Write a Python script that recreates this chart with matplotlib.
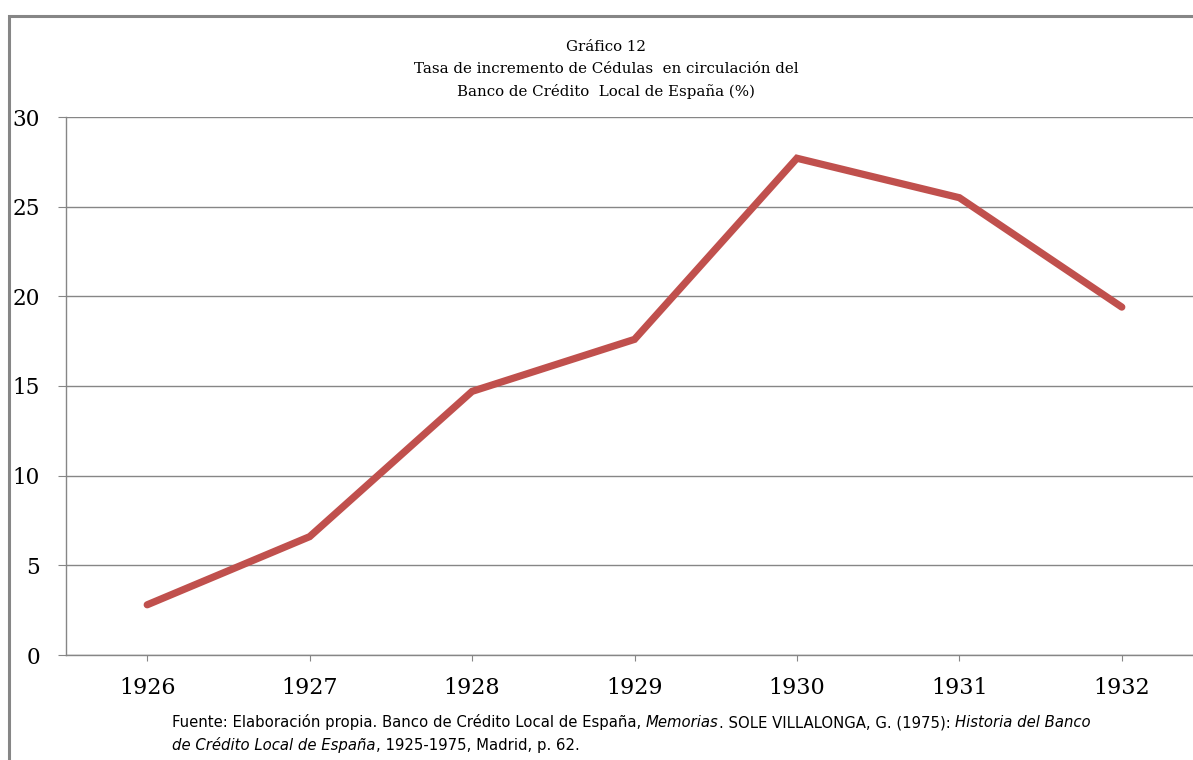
import matplotlib.pyplot as plt
from matplotlib.patches import Rectangle

years = ["1926", "1927", "1928", "1929", "1930", "1931", "1932"]
tasa = [2.8, 6.6, 14.7, 17.6, 27.7, 25.5, 19.4]
yticks = [0, 5, 10, 15, 20, 25, 30]

titulo = "Gráfico 12\nTasa de incremento de Cédulas  en circulación del\nBanco de Crédito  Local de España (%)"
grey = "#868686"

fig = plt.figure(figsize=(11.93, 7.6), dpi=100)
ax = fig.add_axes([66 / 1193, 1 - 655 / 760, (1203 - 66) / 1193, (655 - 117) / 760])

x = list(range(len(years)))
ax.plot(x, tasa, color="#C0504D", lw=5.2, solid_capstyle="round", solid_joinstyle="miter", zorder=3)

ax.set_xlim(-0.5, len(years) - 0.5)
ax.set_ylim(0, 30)
ax.set_yticks(yticks)
ax.set_xticks(x)
ax.set_xticklabels(years)
ax.grid(axis="y", color=grey, lw=1)
ax.set_axisbelow(True)
for s in ["top", "right"]:
    ax.spines[s].set_visible(False)
for s in ["left", "bottom"]:
    ax.spines[s].set_color(grey)
    ax.spines[s].set_linewidth(1)
ax.tick_params(axis="y", length=5.8, color=grey, pad=13, labelsize=15.5)
ax.tick_params(axis="x", length=4.3, color=grey, pad=11.5, labelsize=16)
for lab in ax.get_xticklabels() + ax.get_yticklabels():
    lab.set_family("DejaVu Serif")

fig.text(606 / 1193, 1 - 40 / 760, titulo, ha="center", va="top", fontsize=10.8,
         family="DejaVu Serif", linespacing=1.7)

# marco exterior
fig.patches.append(Rectangle((9 / 1193, -0.1), 1.2, 1.1 - 16 / 760, transform=fig.transFigure,
                             fill=False, edgecolor=grey, lw=2.2, clip_on=False))

# fuente con partes en cursiva
partes1 = [("Fuente: Elaboración propia. Banco de Crédito Local de España, ", "normal"),
           ("Memorias", "italic"),
           (". SOLE VILLALONGA, G. (1975): ", "normal"),
           ("Historia del Banco", "italic")]
partes2 = [("de Crédito Local de España", "italic"),
           (", 1925-1975, Madrid, p. 62.", "normal")]

fs = 10.7
renderer = fig.canvas.get_renderer()
for linea, ypos in [(partes1, 1 - 727 / 760), (partes2, 1 - 750 / 760)]:
    xpos = 172 / 1193
    for txt, st in linea:
        t = fig.text(xpos, ypos, txt, fontsize=fs, style=st, family="DejaVu Sans", va="baseline")
        bb = t.get_window_extent(renderer)
        xpos = fig.transFigure.inverted().transform((bb.x1, bb.y0))[0]

fig.savefig("out.png", dpi=100)
